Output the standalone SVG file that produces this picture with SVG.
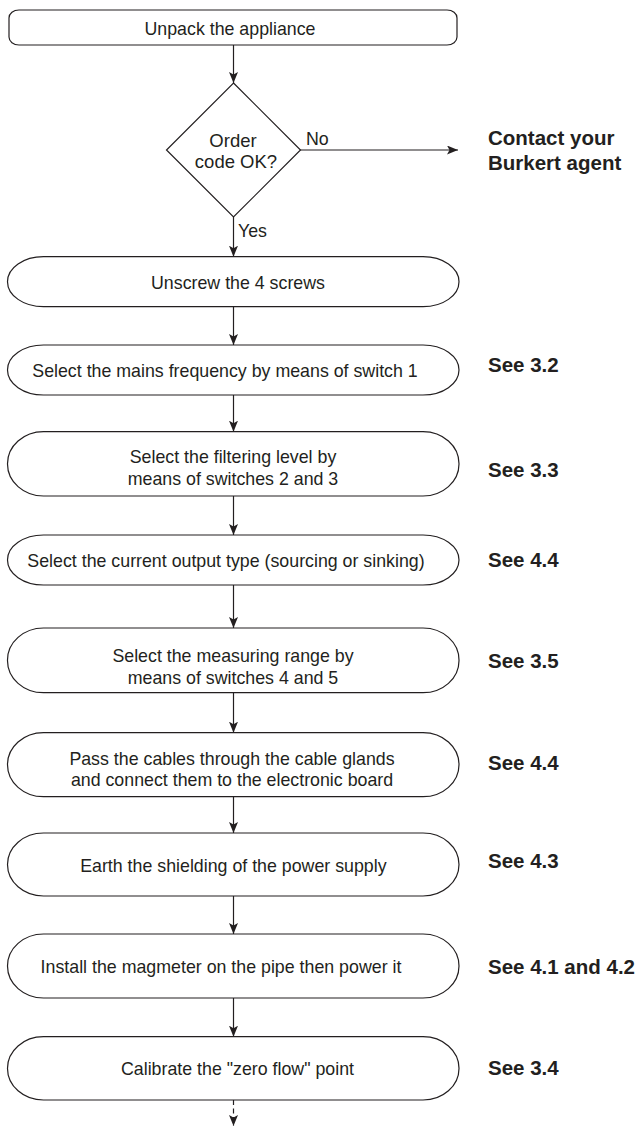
<svg xmlns="http://www.w3.org/2000/svg" width="643" height="1144" viewBox="0 0 643 1144">
<defs>
<marker id="arr" markerUnits="userSpaceOnUse" markerWidth="12" markerHeight="10" refX="11" refY="4.5" orient="auto">
<path d="M0,0 L11,4.5 L0,9 L2.5,4.5 z" fill="#231f20"/>
</marker>
<style>
.box{fill:#fff;stroke:#231f20;stroke-width:1.2}
.t{font-family:"Liberation Sans",Arial,sans-serif;font-size:17.8px;fill:#231f20;text-anchor:middle}
.l{font-family:"Liberation Sans",Arial,sans-serif;font-size:17.8px;fill:#231f20}
.see{font-family:"Liberation Sans",Arial,sans-serif;font-size:20.5px;font-weight:bold;fill:#231f20}
.c{fill:none;stroke:#231f20;stroke-width:1.2}
</style>
</defs>
<rect width="643" height="1144" fill="#fff"/>
<g id="connectors">
<path class="c" d="M233.5,45 V83" marker-end="url(#arr)"/>
<path class="c" d="M300,150 H458" marker-end="url(#arr)"/>
<path class="c" d="M233.5,217 V256.7" marker-end="url(#arr)"/>
<path class="c" d="M233.5,306.7 V345" marker-end="url(#arr)"/>
<path class="c" d="M233.5,395 V431.7" marker-end="url(#arr)"/>
<path class="c" d="M233.5,496 V535" marker-end="url(#arr)"/>
<path class="c" d="M233.5,585 V628" marker-end="url(#arr)"/>
<path class="c" d="M233.5,692.7 V732.7" marker-end="url(#arr)"/>
<path class="c" d="M233.5,796.7 V833" marker-end="url(#arr)"/>
<path class="c" d="M233.5,896 V934" marker-end="url(#arr)"/>
<path class="c" d="M233.5,998 V1036.7" marker-end="url(#arr)"/>
<path class="c" d="M233.5,1100 V1126" stroke-dasharray="5,3.5" marker-end="url(#arr)"/>
<text class="l" x="306" y="145">No</text>
<text class="l" x="238" y="237">Yes</text>
</g>
<g id="n1">
<rect class="box" x="9" y="10" width="448" height="35" rx="10" ry="8"/>
<text class="t" x="230" y="35">Unpack the appliance</text>
</g>
<g id="n2">
<path class="box" d="M233.5,83 L300.5,150 L233.5,217 L166.5,150 Z"/>
<text class="t" x="233" y="146.7" style="font-size:18.5px">Order</text>
<text class="t" x="236" y="168.3" style="font-size:18.5px">code OK?</text>
</g>
<g id="n3">
<text class="see" x="488" y="145">Contact your</text>
<text class="see" x="488" y="170">Burkert agent</text>
</g>
<g id="n4">
<rect class="box" x="7.5" y="256.7" width="451.5" height="50" rx="36" ry="25"/>
<text class="t" x="238" y="289">Unscrew the 4 screws</text>
</g>
<g id="n5">
<rect class="box" x="7.5" y="345" width="451.5" height="50" rx="36" ry="25"/>
<text class="t" x="225" y="376.7">Select the mains frequency by means of switch 1</text>
<text class="see" x="488" y="371.7">See 3.2</text>
</g>
<g id="n6">
<rect class="box" x="7.5" y="431.7" width="451.5" height="64.3" rx="36" ry="32"/>
<text class="t" x="233" y="463">Select the filtering level by</text>
<text class="t" x="233" y="485">means of switches 2 and 3</text>
<text class="see" x="488" y="476.7">See 3.3</text>
</g>
<g id="n7">
<rect class="box" x="7.5" y="535" width="451.5" height="50" rx="36" ry="25"/>
<text class="t" x="226" y="566.7">Select the current output type (sourcing or sinking)</text>
<text class="see" x="488" y="567">See 4.4</text>
</g>
<g id="n8">
<rect class="box" x="7.5" y="628" width="451.5" height="64.7" rx="36" ry="32"/>
<text class="t" x="233" y="662">Select the measuring range by</text>
<text class="t" x="233" y="684">means of switches 4 and 5</text>
<text class="see" x="488" y="668">See 3.5</text>
</g>
<g id="n9">
<rect class="box" x="7.5" y="732.7" width="451.5" height="64" rx="36" ry="32"/>
<text class="t" x="232" y="765">Pass the cables through the cable glands</text>
<text class="t" x="232" y="786">and connect them to the electronic board</text>
<text class="see" x="488" y="770">See 4.4</text>
</g>
<g id="n10">
<rect class="box" x="7.5" y="833" width="451.5" height="63" rx="36" ry="31.5"/>
<text class="t" x="233.4" y="871.7">Earth the shielding of the power supply</text>
<text class="see" x="488" y="868.3">See 4.3</text>
</g>
<g id="n11">
<rect class="box" x="7.5" y="934" width="451.5" height="64" rx="36" ry="32"/>
<text class="t" x="221" y="973">Install the magmeter on the pipe then power it</text>
<text class="see" x="488" y="974">See 4.1 and 4.2</text>
</g>
<g id="n12">
<rect class="box" x="7.5" y="1036.7" width="451.5" height="63.3" rx="36" ry="31.6"/>
<text class="t" x="237.5" y="1075">Calibrate the "zero flow" point</text>
<text class="see" x="488" y="1075">See 3.4</text>
</g>
</svg>
